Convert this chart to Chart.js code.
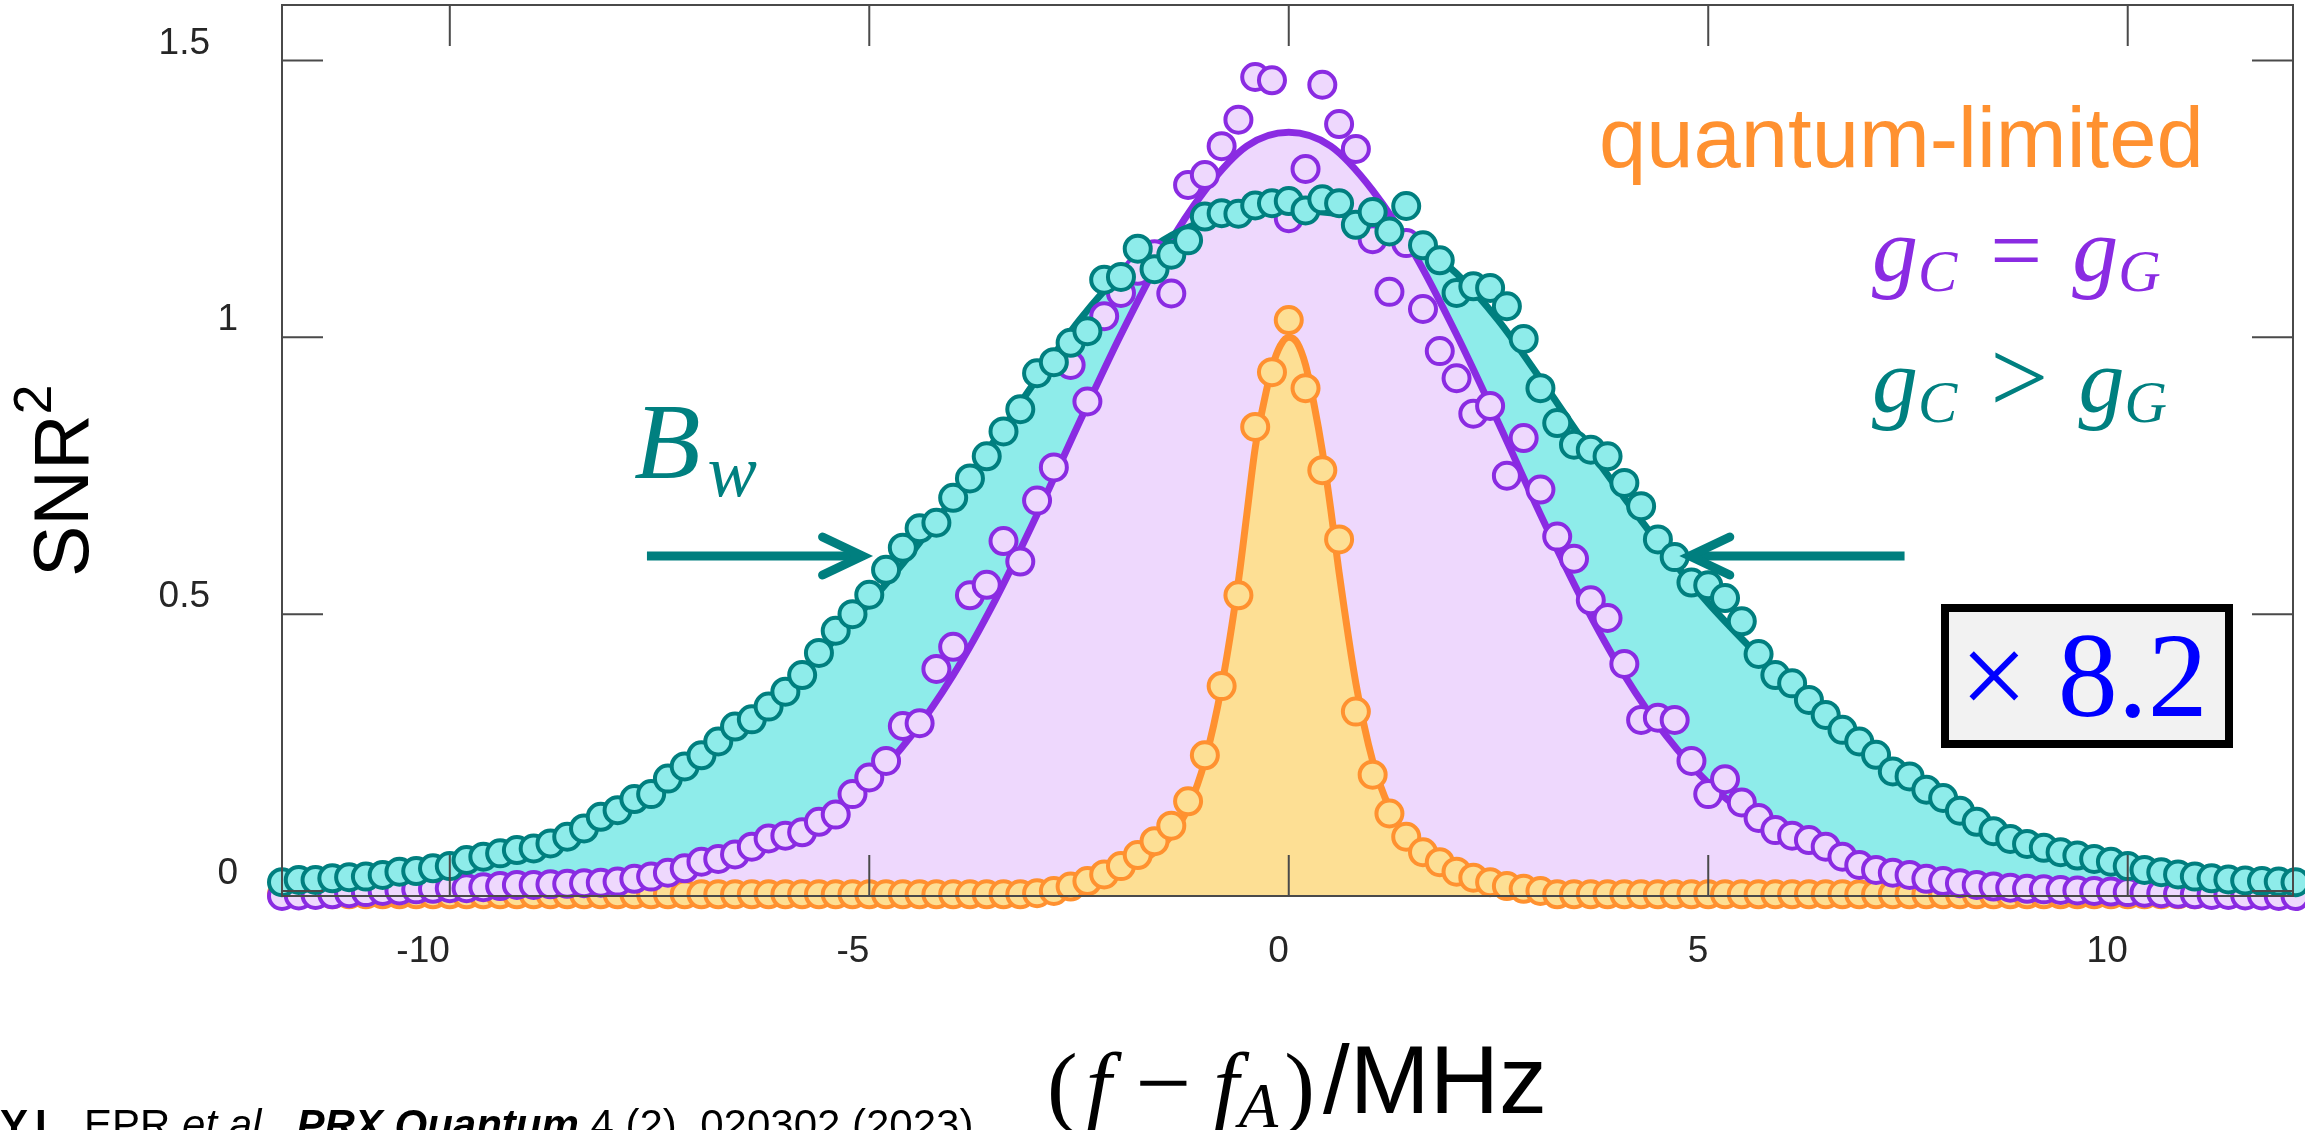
<!DOCTYPE html>
<html>
<head>
<meta charset="utf-8">
<title>SNR² vs detuning</title>
<script src="https://cdn.jsdelivr.net/npm/chart.js@4.4.1/dist/chart.umd.min.js"></script>
<style>
  html, body { margin: 0; padding: 0; background: #fff; overflow: hidden; }
  #wrap { position: relative; width: 2305px; height: 1130px; overflow: hidden; }
  #snrChart { position: absolute; left: 0; top: 0; }
  .lbl { position: absolute; white-space: nowrap; line-height: 1; }
  .sans { font-family: 'Liberation Sans', Arial, sans-serif; }
  .serif { font-family: 'Liberation Serif', 'Times New Roman', serif; }
  .sub { font-size: 0.64em; position: relative; top: 0.17em; }
  .rel { font-style: normal; display: inline-block; }
  .box82 { position: absolute; box-sizing: border-box; border: 8px solid #000; background: #f2f2f2; }
</style>
</head>
<body>
<div id="wrap">
  <canvas id="snrChart" width="2305" height="1130"></canvas>

  <div class="lbl sans" style="left:1599px; top:95px; font-size:85px; color:#ff9130;">quantum-limited</div>
  <div class="lbl serif" style="left:1872px; top:204px; font-size:92px; color:#8a2be2;"><i>g</i><i class="sub">C</i><span class="rel" style="margin:0 30px 0 33px;">=</span><i>g</i><i class="sub">G</i></div>
  <div class="lbl serif" style="left:1872px; top:326px; font-size:92px; color:#008080;"><i>g</i><i class="sub">C</i><span class="rel" style="margin:0 30px 0 33px; font-size:1.12em;">&gt;</span><i>g</i><i class="sub">G</i></div>
  <div class="lbl serif" style="left:634px; top:387px; font-size:109px; color:#008080;"><i>B</i><i style="font-size:0.68em; position:relative; top:0.24em; margin-left:7px;">w</i></div>

  <div class="box82" style="left:1941px; top:604px; width:292px; height:144px;"></div>
  <div class="lbl serif" style="left:1960px; top:616px; font-size:120px; color:#0000ff;">× 8.2</div>

  <div class="lbl sans" style="left:23px; top:577px; font-size:77px; color:#000; transform-origin:0 0; transform:rotate(-90deg);">SNR<span style="font-size:0.7em; position:relative; top:-0.68em;">2</span></div>
  <div class="lbl serif" style="left:1047px; top:1033px; font-size:92px; color:#000;">(<i style="margin-left:8px;">f</i><span style="margin:0 22px 0 24px; font-size:1.08em;">−</span><i>f</i><i class="sub" style="font-size:0.7em; margin-right:6px;">A</i>)</div>
  <div class="lbl sans" style="left:1323px; top:1032px; font-size:96px; color:#000;">/MHz</div>

  <div class="lbl sans" style="left:0px; top:1104px; font-size:42px; color:#000;"><b>Y.L.</b> EPR <i>et al.</i>, <b><i>PRX Quantum</i></b> 4 (2), 020302 (2023)</div>
</div>

<script>
// frequency grid of the measured points, MHz
const freqs = Array.from({ length: 121 }, (_, i) => +(-12 + 0.2 * i).toFixed(1));

// quantum-limited
const snrQuantum = [
  -0.006, -0.006, -0.006, -0.006, -0.006, -0.006, -0.006, -0.006, -0.006, -0.006,
  -0.006, -0.006, -0.006, -0.006, -0.006, -0.006, -0.006, -0.006, -0.006, -0.006,
  -0.006, -0.006, -0.006, -0.006, -0.006, -0.006, -0.006, -0.006, -0.006, -0.006,
  -0.006, -0.006, -0.006, -0.006, -0.006, -0.006, -0.006, -0.006, -0.006, -0.006,
  -0.006, -0.006, -0.006, -0.006, -0.006, -0.004, 0.000, 0.008, 0.018, 0.030,
  0.045, 0.065, 0.090, 0.118, 0.162, 0.245, 0.370, 0.534, 0.838, 0.937,
  1.031, 0.908, 0.760, 0.635, 0.324, 0.210, 0.140, 0.098, 0.070, 0.052,
  0.035, 0.024, 0.016, 0.009, 0.004, 0.000, -0.006, -0.006, -0.006, -0.006,
  -0.006, -0.006, -0.006, -0.006, -0.006, -0.006, -0.006, -0.006, -0.006, -0.006,
  -0.006, -0.006, -0.006, -0.006, -0.006, -0.006, -0.006, -0.006, -0.006, -0.006,
  -0.006, -0.006, -0.006, -0.006, -0.006, -0.006, -0.006, -0.006, -0.006, -0.006,
  -0.006, -0.006, -0.006, -0.006, -0.006, -0.006, -0.006, -0.006, -0.006, -0.006,
  -0.006
];

// gC = gG
const snrMatched = [
  -0.009, -0.008, -0.007, -0.006, -0.004, -0.002, 0.000, 0.001, 0.003, 0.004,
  0.005, 0.005, 0.007, 0.009, 0.011, 0.011, 0.012, 0.013, 0.014, 0.015,
  0.017, 0.022, 0.026, 0.033, 0.041, 0.053, 0.058, 0.066, 0.080, 0.095,
  0.100, 0.106, 0.125, 0.138, 0.175, 0.205, 0.235, 0.298, 0.303, 0.401,
  0.441, 0.534, 0.553, 0.632, 0.595, 0.705, 0.765, 0.950, 0.884, 1.038,
  1.080, 1.120, 1.150, 1.079, 1.275, 1.293, 1.345, 1.393, 1.470, 1.464,
  1.215, 1.304, 1.456, 1.385, 1.340, 1.177, 1.082, 1.170, 1.051, 0.975,
  0.926, 0.862, 0.876, 0.750, 0.818, 0.725, 0.640, 0.600, 0.525, 0.493,
  0.410, 0.309, 0.313, 0.309, 0.235, 0.175, 0.202, 0.160, 0.132, 0.110,
  0.100, 0.092, 0.080, 0.062, 0.047, 0.038, 0.033, 0.029, 0.022, 0.018,
  0.014, 0.011, 0.008, 0.006, 0.004, 0.003, 0.002, 0.001, 0.000, -0.001,
  -0.002, -0.003, -0.004, -0.005, -0.006, -0.007, -0.007, -0.008, -0.008, -0.009,
  -0.009
];

// gC > gG
const snrWide = [
  0.016, 0.020, 0.020, 0.023, 0.025, 0.026, 0.029, 0.035, 0.036, 0.041,
  0.045, 0.056, 0.062, 0.068, 0.074, 0.077, 0.086, 0.098, 0.113, 0.134,
  0.146, 0.166, 0.175, 0.203, 0.225, 0.245, 0.270, 0.297, 0.310, 0.333,
  0.360, 0.390, 0.430, 0.470, 0.500, 0.535, 0.580, 0.620, 0.655, 0.665,
  0.710, 0.745, 0.785, 0.830, 0.870, 0.935, 0.955, 0.990, 1.011, 1.104,
  1.109, 1.160, 1.123, 1.149, 1.175, 1.218, 1.224, 1.223, 1.238, 1.242,
  1.246, 1.229, 1.249, 1.242, 1.203, 1.226, 1.191, 1.237, 1.166, 1.139,
  1.080, 1.092, 1.089, 1.056, 0.997, 0.908, 0.845, 0.806, 0.797, 0.785,
  0.737, 0.695, 0.635, 0.603, 0.557, 0.552, 0.529, 0.487, 0.428, 0.390,
  0.375, 0.345, 0.318, 0.291, 0.270, 0.246, 0.216, 0.207, 0.183, 0.168,
  0.145, 0.125, 0.108, 0.094, 0.085, 0.078, 0.070, 0.064, 0.058, 0.053,
  0.045, 0.038, 0.034, 0.030, 0.026, 0.023, 0.021, 0.019, 0.018, 0.017,
  0.016
];

// fitted curves
const fitFreqs = [
  -12, -11.5, -11, -10.5, -10, -9.5, -9, -8.5, -8, -7.5, -7, -6.5, -6, -5.5, -5, -4.5, -4, -3.5, -3, -2.5, -2, -1.5, -1, -0.5,
  0, 0.5, 1, 1.5, 2, 2.5, 3, 3.5, 4, 4.5, 5, 5.5, 6, 6.5, 7, 7.5, 8, 8.5, 9, 9.5, 10, 10.5, 11, 11.5, 12
];
const fitMatched = [
  -0.004, -0.003, -0.002, 0.000, 0.002, 0.005, 0.008, 0.013, 0.020, 0.031, 0.046, 0.066, 0.094, 0.135, 0.195, 0.280, 0.390, 0.525, 0.680, 0.845, 1.005, 1.150, 1.265, 1.345,
  1.370, 1.345, 1.265, 1.150, 1.005, 0.845, 0.680, 0.525, 0.390, 0.280, 0.195, 0.135, 0.094, 0.066, 0.046, 0.031, 0.020, 0.013, 0.008, 0.005, 0.002, 0.000, -0.002, -0.003, -0.004
];
const fitWide = [
  0.016, 0.019, 0.023, 0.031, 0.045, 0.062, 0.080, 0.105, 0.145, 0.192, 0.245, 0.300, 0.365, 0.440, 0.520, 0.610, 0.710, 0.815, 0.925, 1.030, 1.115, 1.175, 1.210, 1.225,
  1.230, 1.225, 1.210, 1.175, 1.115, 1.030, 0.925, 0.815, 0.710, 0.610, 0.520, 0.440, 0.365, 0.300, 0.245, 0.192, 0.145, 0.105, 0.080, 0.062, 0.045, 0.031, 0.023, 0.019, 0.016
];
const fitQuantumFreqs = [-12, -6, -4, -3.5, -3, -2.5, -2, -1.8, -1.6, -1.4, -1.2, -1, -0.8, -0.6, -0.5, -0.4, -0.3, -0.2, -0.1, 0,
  0.1, 0.2, 0.3, 0.4, 0.5, 0.6, 0.8, 1, 1.2, 1.4, 1.6, 1.8, 2, 2.5, 3, 3.5, 4, 6, 12];
const fitQuantum = [-0.004, -0.004, -0.003, -0.001, 0.003, 0.012, 0.036, 0.050, 0.070, 0.100, 0.150, 0.235, 0.370, 0.560, 0.680, 0.800, 0.880, 0.945, 0.985, 1.000,
  0.990, 0.950, 0.880, 0.795, 0.690, 0.575, 0.375, 0.235, 0.150, 0.100, 0.070, 0.050, 0.036, 0.012, 0.003, -0.001, -0.003, -0.004, -0.004];

// Bw arrows (MHz, level in SNR²)
const widthArrows = [
  { from: -7.65, to: -5.08, level: 0.605 },
  { from: 7.34, to: 4.78, level: 0.605 }
];

const yTicks = [0, 0.5, 1, 1.5];

const ORANGE = '#ff9130', YELLOW = '#fddf94';
const PURPLE = '#8a2be2', LAVENDER = '#eed8fd';
const TEAL = '#007f7f', CYAN = '#8eecea';
const TICK_LEN = 41;

const toPoints = (xs, ys) => ys.map((v, i) => ({ x: xs[i], y: v }));

// MATLAB-like box with inward ticks on all four sides
const framePlugin = {
  id: 'frame',
  afterDatasetsDraw(chart) {
    const { ctx, chartArea: a, scales: { x, y } } = chart;
    ctx.save();
    ctx.strokeStyle = '#4a4a4a';
    ctx.lineWidth = 2;
    ctx.strokeRect(a.left, a.top, a.right - a.left, a.bottom - a.top);
    ctx.beginPath();
    x.ticks.forEach(t => {
      const px = x.getPixelForValue(t.value);
      ctx.moveTo(px, a.bottom); ctx.lineTo(px, a.bottom - TICK_LEN);
      ctx.moveTo(px, a.top); ctx.lineTo(px, a.top + TICK_LEN);
    });
    y.ticks.forEach(t => {
      const py = y.getPixelForValue(t.value);
      ctx.moveTo(a.left, py); ctx.lineTo(a.left + TICK_LEN, py);
      ctx.moveTo(a.right, py); ctx.lineTo(a.right - TICK_LEN, py);
    });
    ctx.stroke();
    ctx.restore();
  }
};

const arrowPlugin = {
  id: 'bwArrows',
  afterDatasetsDraw(chart) {
    const { ctx, scales: { x, y } } = chart;
    ctx.save();
    ctx.strokeStyle = TEAL;
    ctx.lineWidth = 9;
    widthArrows.forEach(a => {
      const x0 = x.getPixelForValue(a.from), x1 = x.getPixelForValue(a.to), py = y.getPixelForValue(a.level);
      const dir = Math.sign(x1 - x0);
      ctx.lineCap = 'butt';
      ctx.beginPath(); ctx.moveTo(x0, py); ctx.lineTo(x1, py); ctx.stroke();
      ctx.lineCap = 'round';
      ctx.beginPath();
      ctx.moveTo(x1 - dir * 40, py - 19); ctx.lineTo(x1, py); ctx.lineTo(x1 - dir * 40, py + 19);
      ctx.stroke();
    });
    ctx.restore();
  }
};

const markerStyle = (fill, edge) => ({
  showLine: false,
  pointRadius: 13,
  pointHoverRadius: 13,
  pointBorderWidth: 4,
  pointBackgroundColor: fill,
  pointBorderColor: edge,
  clip: false
});

// tick label padding would otherwise push the plot box down
const noEdgePadding = s => { s.paddingTop = 0; s.paddingBottom = 0; s.paddingLeft = 0; s.paddingRight = 0; };

const ctx = document.getElementById('snrChart');

new Chart(ctx, {
  type: 'line',
  data: {
    datasets: [
      { label: 'gC > gG', data: toPoints(freqs, snrWide), order: 1, ...markerStyle(CYAN, TEAL) },
      { label: 'gC = gG', data: toPoints(freqs, snrMatched), order: 2, ...markerStyle(LAVENDER, PURPLE) },
      { label: 'quantum-limited', data: toPoints(freqs, snrQuantum), order: 3, ...markerStyle(YELLOW, ORANGE) },
      {
        label: 'quantum-limited fit', data: toPoints(fitQuantumFreqs, fitQuantum), order: 7,
        borderColor: ORANGE, borderWidth: 7, pointRadius: 0, cubicInterpolationMode: 'monotone',
        fill: 'start', backgroundColor: YELLOW
      },
      {
        label: 'gC > gG fit', data: toPoints(fitFreqs, fitWide), order: 8,
        borderColor: TEAL, borderWidth: 7, pointRadius: 0, cubicInterpolationMode: 'monotone',
        fill: { target: 5, above: CYAN, below: 'rgba(0,0,0,0)' }
      },
      {
        label: 'gC = gG fit', data: toPoints(fitFreqs, fitMatched), order: 9,
        borderColor: PURPLE, borderWidth: 7, pointRadius: 0, cubicInterpolationMode: 'monotone',
        fill: 'start', backgroundColor: LAVENDER
      }
    ]
  },
  options: {
    responsive: false,
    animation: false,
    devicePixelRatio: 1,
    events: [],
    layout: { autoPadding: false, padding: { left: 0, top: 5, right: 12, bottom: 0 } },
    plugins: {
      legend: { display: false },
      tooltip: { enabled: false },
      filler: { drawTime: 'beforeDatasetsDraw' }
    },
    scales: {
      x: {
        type: 'linear',
        min: -12.0,
        max: 11.97,
        grid: { display: false },
        border: { display: false },
        afterFit: s => { s.height = 234; noEdgePadding(s); },
        ticks: {
          stepSize: 5,
          includeBounds: false,
          align: 'end',
          maxRotation: 0,
          padding: 26,
          color: '#262626',
          font: { family: "'Liberation Sans', Arial, sans-serif", size: 37 }
        }
      },
      y: {
        min: -0.009,
        max: 1.6,
        grid: { display: false },
        border: { display: false },
        afterFit: s => { s.width = 282; noEdgePadding(s); },
        afterBuildTicks: s => { s.ticks = yTicks.map(v => ({ value: v })); },
        ticks: {
          padding: 36,
          labelOffset: -17,
          color: '#262626',
          font: { family: "'Liberation Sans', Arial, sans-serif", size: 37 },
          // decimal labels sit further left than the integer ones
          callback: v => (v % 1 ? v + '\u2007\u2009' : String(v))
        }
      }
    }
  },
  plugins: [framePlugin, arrowPlugin]
});
</script>
</body>
</html>
